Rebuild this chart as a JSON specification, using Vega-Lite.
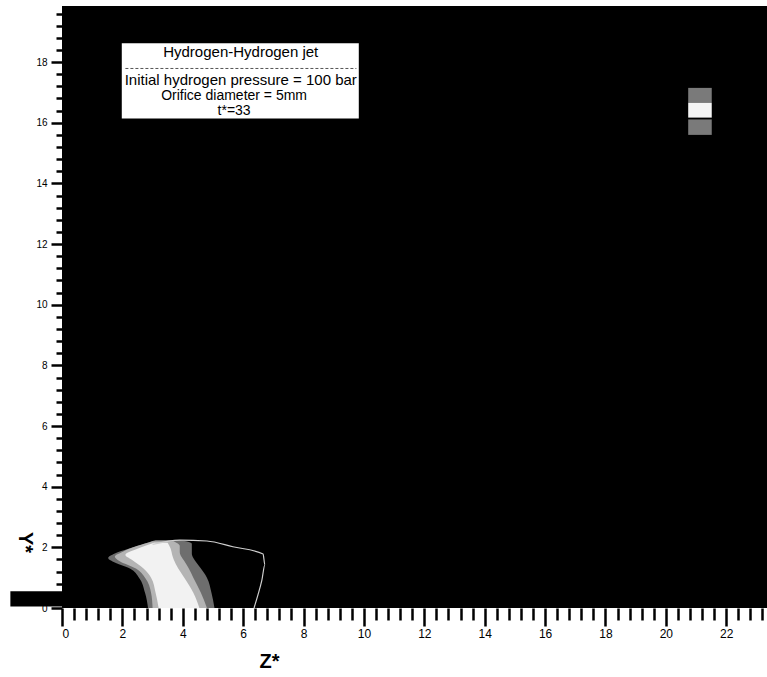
{
  "$schema": "https://vega.github.io/schema/vega-lite/v6.json",
  "width": 705,
  "height": 602,
  "autosize": {"type": "none"},
  "padding": {"left": 62, "top": 6, "right": 0, "bottom": 69},
  "background": "white",
  "config": {
    "view": {"fill": "black", "stroke": null},
    "font": "Liberation Sans"
  },
  "resolve": {"axis": {"x": "independent", "y": "independent"}},
  "datasets": {
    "jet": [
      {"part": "outer", "y": 2.24, "z": 3.1, "z2": 3.9},
      {"part": "outer", "y": 2.12, "z": 2.75, "z2": 4.3},
      {"part": "outer", "y": 1.95, "z": 2.2, "z2": 4.3},
      {"part": "outer", "y": 1.8, "z": 1.75, "z2": 4.3},
      {"part": "outer", "y": 1.65, "z": 1.53, "z2": 4.35},
      {"part": "outer", "y": 1.5, "z": 1.75, "z2": 4.45},
      {"part": "outer", "y": 1.3, "z": 2.25, "z2": 4.6},
      {"part": "outer", "y": 1.0, "z": 2.55, "z2": 4.8},
      {"part": "outer", "y": 0.5, "z": 2.75, "z2": 4.95},
      {"part": "outer", "y": 0.0, "z": 2.85, "z2": 5.05},
      {"part": "mid", "y": 2.2, "z": 3.0, "z2": 3.7},
      {"part": "mid", "y": 2.05, "z": 2.5, "z2": 3.9},
      {"part": "mid", "y": 1.85, "z": 2.0, "z2": 3.9},
      {"part": "mid", "y": 1.7, "z": 1.75, "z2": 3.95},
      {"part": "mid", "y": 1.55, "z": 1.9, "z2": 4.05},
      {"part": "mid", "y": 1.3, "z": 2.45, "z2": 4.2},
      {"part": "mid", "y": 1.0, "z": 2.75, "z2": 4.35},
      {"part": "mid", "y": 0.5, "z": 2.95, "z2": 4.6},
      {"part": "mid", "y": 0.0, "z": 3.0, "z2": 4.8},
      {"part": "core", "y": 2.15, "z": 3.05, "z2": 3.5},
      {"part": "core", "y": 1.95, "z": 2.5, "z2": 3.6},
      {"part": "core", "y": 1.75, "z": 2.1, "z2": 3.65},
      {"part": "core", "y": 1.6, "z": 2.3, "z2": 3.7},
      {"part": "core", "y": 1.3, "z": 2.7, "z2": 3.85},
      {"part": "core", "y": 1.0, "z": 2.95, "z2": 4.05},
      {"part": "core", "y": 0.5, "z": 3.1, "z2": 4.35},
      {"part": "core", "y": 0.0, "z": 3.2, "z2": 4.55}
    ],
    "edge": [
      {"i": 1, "z": 3.0, "y": 2.1},
      {"i": 2, "z": 3.9, "y": 2.24},
      {"i": 3, "z": 4.8, "y": 2.21},
      {"i": 4, "z": 5.66, "y": 2.02},
      {"i": 5, "z": 6.66, "y": 1.78},
      {"i": 6, "z": 6.72, "y": 1.42},
      {"i": 7, "z": 6.62, "y": 0.92},
      {"i": 8, "z": 6.49, "y": 0.43},
      {"i": 9, "z": 6.36, "y": 0.0}
    ],
    "marker": [
      {"part": "speckle", "z": 20.74, "z2": 21.52, "y": 16.66, "y2": 17.15},
      {"part": "white", "z": 20.74, "z2": 21.52, "y": 16.17, "y2": 16.66},
      {"part": "speckle", "z": 20.74, "z2": 21.52, "y": 15.6, "y2": 16.11}
    ],
    "box": [
      {"z": 1.98, "z2": 9.83, "y": 16.14, "y2": 18.62}
    ],
    "divider": [
      {"z": 2.1, "z2": 9.75, "y": 17.79}
    ],
    "labels": [
      {"grp": "head", "z": 5.92, "y": 18.32, "t": "Hydrogen-Hydrogen jet"},
      {"grp": "head", "z": 5.92, "y": 17.4, "t": "Initial hydrogen pressure = 100 bar"},
      {"grp": "sub", "z": 5.7, "y": 16.87, "t": "Orifice diameter = 5mm"},
      {"grp": "sub", "z": 5.7, "y": 16.38, "t": "t*=33"}
    ],
    "nozzle": [
      {"z": -1.71, "z2": 0, "y": 0.05, "y2": 0.55}
    ]
  },
  "encoding": {
    "x": {
      "field": "z",
      "type": "quantitative",
      "scale": {"domain": [0, 23.35], "nice": false, "zero": false},
      "axis": null
    },
    "y": {
      "field": "y",
      "type": "quantitative",
      "scale": {"domain": [0, 19.85], "nice": false, "zero": false},
      "axis": null
    }
  },
  "layer": [
    {
      "data": {"name": "jet"},
      "transform": [{"filter": "datum.part === 'outer'"}],
      "mark": {"type": "area", "orient": "horizontal", "color": "#6e6e6e", "interpolate": "monotone"},
      "encoding": {
        "x": {
          "field": "z",
          "type": "quantitative",
          "scale": {"domain": [0, 23.35], "nice": false, "zero": false},
          "axis": {
            "orient": "bottom",
            "title": "Z*",
            "titleFontSize": 20,
            "titleFontWeight": "bold",
            "titleX": 207,
            "titleY": 53,
            "titleBaseline": "middle",
            "titleAlign": "center",
            "grid": false,
            "domain": false,
            "values": [0,2,4,6,8,10,12,14,16,18,20,22],
            "format": "d",
            "labelOverlap": false,
            "labelFontSize": 12,
            "labelColor": "black",
            "labelPadding": 2,
            "tickColor": "black",
            "tickWidth": 2.5,
            "tickSize": 18
          }
        },
        "y": {
          "field": "y",
          "type": "quantitative",
          "scale": {"domain": [0, 19.85], "nice": false, "zero": false},
          "axis": {
            "orient": "left",
            "title": "Y*",
            "titleFontSize": 20,
            "titleFontWeight": "bold",
            "titleAngle": 90,
            "titleX": -38,
            "titleY": 536,
            "titleBaseline": "middle",
            "titleAlign": "center",
            "grid": false,
            "domain": false,
            "values": [0,2,4,6,8,10,12,14,16,18],
            "format": "d",
            "labelOverlap": false,
            "labelFontSize": 10,
            "labelColor": "black",
            "labelPadding": 4,
            "tickColor": "black",
            "tickWidth": 2.5,
            "tickSize": 11
          }
        },
        "x2": {"field": "z2"}
      }
    },
    {
      "data": {"name": "jet"},
      "transform": [{"filter": "datum.part === 'mid'"}],
      "mark": {"type": "area", "orient": "horizontal", "color": "#b4b4b4", "interpolate": "monotone"},
      "encoding": {
        "x": {
          "field": "z",
          "type": "quantitative",
          "scale": {"domain": [0, 23.35], "nice": false, "zero": false},
          "axis": {
            "orient": "bottom",
            "title": null,
            "grid": false,
            "domain": false,
            "labels": false,
            "values": [0.4,0.8,1.2,1.6,2.4,2.8,3.2,3.6,4.4,4.8,5.2,5.6,6.4,6.8,7.2,7.6,8.4,8.8,9.2,9.6,10.4,10.8,11.2,11.6,12.4,12.8,13.2,13.6,14.4,14.8,15.2,15.6,16.4,16.8,17.2,17.6,18.4,18.8,19.2,19.6,20.4,20.8,21.2,21.6,22.4,22.8,23.2],
            "tickColor": "black",
            "tickWidth": 2.5,
            "tickSize": 12
          }
        },
        "y": {
          "field": "y",
          "type": "quantitative",
          "scale": {"domain": [0, 19.85], "nice": false, "zero": false},
          "axis": {
            "orient": "left",
            "title": null,
            "grid": false,
            "domain": false,
            "labels": false,
            "values": [0.4,0.8,1.2,1.6,2.4,2.8,3.2,3.6,4.4,4.8,5.2,5.6,6.4,6.8,7.2,7.6,8.4,8.8,9.2,9.6,10.4,10.8,11.2,11.6,12.4,12.8,13.2,13.6,14.4,14.8,15.2,15.6,16.4,16.8,17.2,17.6,18.4,18.8,19.2,19.6],
            "tickColor": "black",
            "tickWidth": 2.5,
            "tickSize": 6
          }
        },
        "x2": {"field": "z2"}
      }
    },
    {
      "data": {"name": "jet"},
      "transform": [{"filter": "datum.part === 'core'"}],
      "mark": {"type": "area", "orient": "horizontal", "color": "#f2f2f2", "interpolate": "monotone"},
      "encoding": {"x2": {"field": "z2"}}
    },
    {
      "data": {"name": "edge"},
      "mark": {"type": "line", "color": "#cfcfcf", "strokeWidth": 1.2, "interpolate": "monotone"},
      "encoding": {"order": {"field": "i", "type": "quantitative"}}
    },
    {
      "data": {"name": "marker"},
      "transform": [{"filter": "datum.part === 'speckle'"}],
      "mark": {"type": "rect", "color": "#7a7a7a"},
      "encoding": {"x2": {"field": "z2"}, "y2": {"field": "y2"}}
    },
    {
      "data": {"name": "marker"},
      "transform": [{"filter": "datum.part === 'white'"}],
      "mark": {"type": "rect", "color": "#f5f5f5"},
      "encoding": {"x2": {"field": "z2"}, "y2": {"field": "y2"}}
    },
    {
      "data": {"name": "box"},
      "mark": {"type": "rect", "color": "white"},
      "encoding": {"x2": {"field": "z2"}, "y2": {"field": "y2"}}
    },
    {
      "data": {"name": "divider"},
      "mark": {"type": "rule", "color": "#555555", "strokeWidth": 1, "strokeDash": [3, 2]},
      "encoding": {"x2": {"field": "z2"}}
    },
    {
      "data": {"name": "labels"},
      "transform": [{"filter": "datum.grp === 'head'"}],
      "mark": {"type": "text", "fontSize": 15, "color": "black", "align": "center", "baseline": "middle", "font": "Liberation Sans"},
      "encoding": {"text": {"field": "t"}}
    },
    {
      "data": {"name": "labels"},
      "transform": [{"filter": "datum.grp === 'sub'"}],
      "mark": {"type": "text", "fontSize": 14, "color": "black", "align": "center", "baseline": "middle", "font": "Liberation Sans"},
      "encoding": {"text": {"field": "t"}}
    },
    {
      "data": {"name": "nozzle"},
      "mark": {"type": "rect", "color": "black", "clip": false},
      "encoding": {"x2": {"field": "z2"}, "y2": {"field": "y2"}}
    }
  ]
}
